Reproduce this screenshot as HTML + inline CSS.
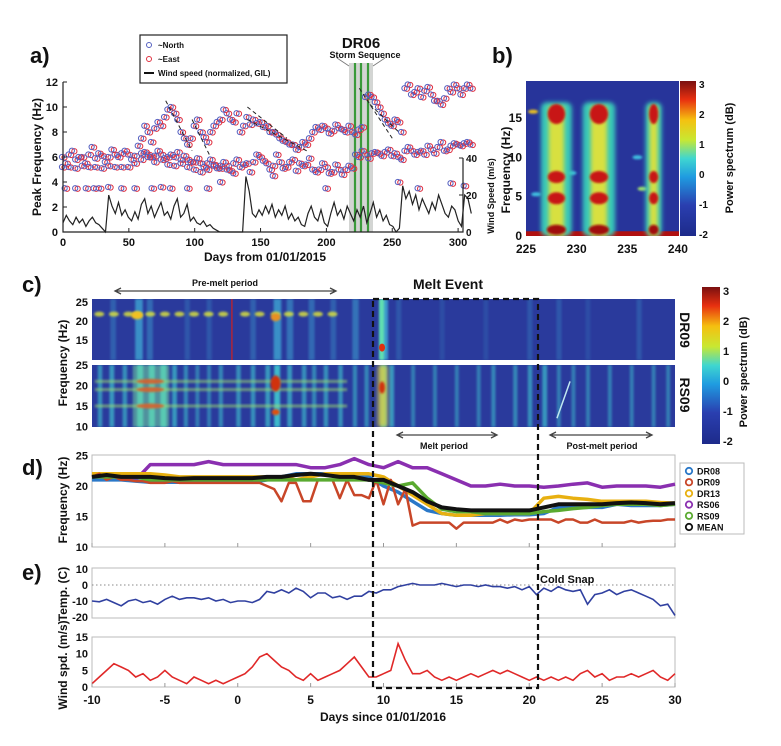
<!DOCTYPE html>
<html><head><meta charset="utf-8">
<style>
html,body{margin:0;padding:0;background:#fff;}
svg{display:block;font-family:"Liberation Sans",sans-serif;}
text{font-weight:bold;fill:#111;}
</style></head>
<body>
<svg id="fig" width="781" height="746" viewBox="0 0 781 746">
<defs>
<linearGradient id="jet" x1="0" y1="1" x2="0" y2="0">
<stop offset="0" stop-color="#1d2a8a"/><stop offset="0.2" stop-color="#2a3fb0"/><stop offset="0.38" stop-color="#1f9be0"/><stop offset="0.5" stop-color="#3fd6d0"/><stop offset="0.62" stop-color="#c8e832"/><stop offset="0.75" stop-color="#f5c010"/><stop offset="0.88" stop-color="#e83010"/><stop offset="1" stop-color="#7a1010"/>
</linearGradient>
<filter id="blur2" x="-50%" y="-50%" width="200%" height="200%"><feGaussianBlur stdDeviation="2"/></filter>
<filter id="blur1" x="-50%" y="-50%" width="200%" height="200%"><feGaussianBlur stdDeviation="1"/></filter>
<clipPath id="clipB"><rect x="526" y="81" width="153" height="155"/></clipPath>
<clipPath id="clipC1"><rect x="92" y="299" width="583" height="61"/></clipPath>
<clipPath id="clipC2"><rect x="92" y="365" width="583" height="62"/></clipPath>
</defs>
</svg>
<script>
// ---------- DATA ----------
// panel a
const aBandDays = [0,5,10,15,20,25,30,35,40,45,50,55,60,65,70,75,80,85,90,95,100,105,110,115,120,125,130,135,140,145,150,155,160,165,170,175,180,185,190,195,200,205,210,215,220,225,230,235,240,245,250,255,260,265,270,275,280,285,290,295,300,305,310];
const aBandFreq = [6,6.2,5.8,6,6.2,5.9,6.1,6,6.2,6.3,6.2,6.1,6.3,6.2,6.1,6.2,6,6,5.8,5.8,5.6,5.5,5.5,5.4,5.3,5.3,5.5,5.2,5.5,5.6,6,5.5,5.3,5.6,5.2,5.8,5.5,5.4,5,5,5.2,4.8,5,5,5.1,6,6.2,6.3,6.3,6.4,6.1,6,6.5,6.5,6.4,6.2,6.6,6.8,6.5,6.9,7,7.1,7];
const aBandBDays = [2.5,7.5,12.5,17.5,22.5,27.5,32.5,37.5,42.5,47.5,52.5,57.5,62.5,67.5,72.5,77.5,82.5,87.5,92.5,97.5,102.5,107.5,112.5,117.5,122.5,127.5,132.5,137.5,142.5,147.5,152.5,157.5,162.5,167.5,172.5,177.5,182.5,187.5,192.5,197.5,202.5,207.5,212.5,217.5,222.5,227.5,232.5,237.5,242.5,247.5,252.5,257.5,262.5,267.5,272.5,277.5,282.5,287.5,292.5,297.5,302.5,307.5];
const aBandBFreq = [5.5,6.5,6,5.5,6.8,6.3,5.6,6.6,6,6.5,5.8,6.9,6.4,6,6.5,5.9,6.2,6.4,6.1,5.6,5.9,5.2,5.8,5.1,5.6,4.9,5.8,5.4,4.8,6.2,5.7,5,6.2,5.1,5.6,4.9,5.3,5.9,4.8,5.5,4.7,5.4,4.6,5.3,6.2,6.5,5.9,6.4,6.1,6.6,6.3,5.8,6.8,6.2,6.5,6.9,6.3,7.2,6.6,7.1,6.9,7.2];
const aLowDays = [0,5,10,15,20,25,30,35,40,45,50,55,60,65,70,75,80,85,90,95,100,105,110,115,120,125,130];
const aLowFreq = [5.2,5.2,5.1,5.3,5.2,5.2,5.1,5.3,5.2,5.2,5.2,5.5,5.8,6,5.6,5.8,5.4,5.3,5.5,5.2,5,4.8,5,5.3,5.1,5,4.7];
const aUpDays = [60,65,70,75,80,85,90,95,100,105,110,115,120,125,130,135,140,145,150,155,160,165,170,175,180,185,190,195,200,205,210,215,220,225,230,235,240,245,250,255,260,265,270,275,280,285,290,295,300,305,310];
const aUpFreq = [7.5,8,8.3,8.5,9.8,9.5,8,7,8.5,8,7.2,8.5,9,9.5,8.8,8,9.2,9,8.8,8.5,8,7.5,7.2,7,6.8,7,8,8.2,8.3,8.1,8.3,8,8,8.2,10.8,10.8,10,9,8.5,8.8,11.5,11,11.5,11.3,11,10.5,10.7,11.2,11.5,11.5,11.5];
const aUpBDays = [62.5,67.5,72.5,77.5,82.5,87.5,92.5,97.5,102.5,107.5,112.5,117.5,122.5,127.5,132.5,137.5,142.5,147.5,152.5,157.5,162.5,167.5,172.5,177.5,182.5,187.5,192.5,197.5,202.5,207.5,212.5,217.5,222.5,227.5,232.5,237.5,242.5,247.5,252.5,257.5,262.5,267.5,272.5,277.5,282.5,287.5,292.5,297.5,302.5,307.5];
const aUpBFreq = [8.5,7.2,8.8,9.2,10,9,7.5,7.5,9,7.6,8,8.8,9.8,9,9.5,8.5,8.6,8.7,8.4,8,7.8,7.3,7,6.6,7.2,7.5,8.4,8.5,7.9,8.6,8.2,8.5,7.8,8.4,11,10.4,9.5,8.7,9,8,11.8,11.2,10.8,11.6,10.5,10.2,11.5,11.8,11,11.8];
const aOutDays = [2,10,18,24,28,35,45,55,68,75,82,95,110,120,160,200,255,270,295,305];
const aOutFreq = [3.5,3.5,3.5,3.5,3.5,3.6,3.5,3.5,3.5,3.6,3.5,3.5,3.5,4,4.5,3.5,4,3.5,3.9,3.7];
const aWindSpeed = [5,9,6,4,8,5,7,3,6,8,5,4,2,0,20,14,10,16,9,12,8,6,11,7,15,18,10,14,8,12,16,9,11,7,14,18,8,10,15,6,8,5,4,6,3,4,2,1,0,0,0,0,0,0,0,0,30,22,10,8,12,9,14,10,15,8,12,9,14,7,10,6,8,4,3,10,14,8,6,12,5,3,10,16,9,12,7,14,10,6,12,8,14,5,10,16,8,12,6,9,4,3,0,2,25,18,22,15,20,12,18,14,10,16,12,20,15,10,8,14,12,6,3,20,18,10];
const aXTicks = [0,50,100,150,200,250,300];
const aYTicks = [0,2,4,6,8,10,12];
const aWTicks = [0,20,40];
// panel b
const bColDays = [228,232.2,237.6];
const bColWidth = [1.9,2.0,1.0];
const bHotFreqs = [15.5,7.5,4.8];
const bXTicks = [225,230,235,240];
const bYTicks = [0,5,10,15];
const cbTicks = [-2,-1,0,1,2,3];
// panel c
const c1StreakDays = [-8.6,-6.9,-6.1,-3.5,-2,1,2.6,3.5,5,6.5,8,9.9,11,14,17,20,22,24,27.5];
const c1StreakPow = [0.4,0.9,0.5,0.3,0.3,0.4,0.9,0.6,0.5,0.4,0.6,1,0.3,0.2,0.2,0.3,0.3,0.2,0.3];
const c1BandDays = [-9.5,-8.5,-7.5,-6.9,-6,-5,-4,-3,-2,-1,0.5,1.5,2.6,3.5,4.5,5.5,6.5];
const c2StreakDays = [-9.5,-8.7,-7.8,-6.8,-6,-5.2,-4.4,-3.6,-2.8,-2,-1.2,0,1,2,2.6,3.5,4.5,5.2,6,7,8,8.8,9.9,10.5,12,13.5,15,16.5,17.5,19,20,21,22,23,24,25.5,27,28.5,29.5];
const c2StreakPow = [0.5,0.6,0.5,1,1,1,0.6,0.4,0.3,0.3,0.4,0.5,0.5,0.6,1,0.6,0.5,0.4,0.5,0.5,0.4,0.4,1,0.6,0.3,0.3,0.3,0.3,0.4,0.4,0.5,0.6,0.3,0.3,0.3,0.3,0.3,0.3,0.3];
const c2BandFreqs = [21,19,15];
const cXTicks = [-10,-5,0,5,10,15,20,25,30];
// panel d
const dDaysDaily = [-10,-9,-8,-7,-6,-5,-4,-3,-2,-1,0,1,2,3,4,5,6,7,8,9,10,11,12,13,14,15,16,17,18,19,20,21,22,23,24,25,26,27,28,29,30];
const dr08 = [21,21,21,20.8,20.6,20.6,20.6,20.6,20.6,20.6,20.6,20.6,21,21.5,22,22,22,22,21.5,21.5,20,19,17.5,16,15.5,15.2,15.2,15.2,15.2,15.3,15.3,15.5,16.5,16.5,16.5,16.5,17,16.8,16.8,16.8,17];
const dr13 = [22,22,22,22,22,21.8,21.5,21.5,21.5,21.5,21.5,21.5,21.5,21.5,21,21.5,22,22,22,22,21.5,20,18.5,17,15.5,15.2,15.2,15.5,15.5,15.5,15.5,18,18.3,18,17.8,17.5,17.5,17.5,17.5,17.3,17.2];
const rs06 = [21.8,21.5,21.5,21,23.5,23.5,23.5,23.5,24,23.5,23.5,23.5,23.5,23.5,23.5,23,23,23.5,24.5,23.5,23,24,23,23,22,21,20,20,20.3,20,20,19.8,20,20.3,20.5,19.8,20,20,20,19.8,20.3];
const rs09 = [21.5,21.5,21.5,21.5,21,21,21,21,21,21,21,21,21,21,21,21,21,21,21,21,20.5,20,20.5,18,16.2,15.8,15.8,15.5,15.5,15.5,15.5,15.8,16,16.3,16.5,16.8,17,17,17,16.8,17];
const meanF = [21.5,21.8,21.5,21.5,21.5,21.3,21.2,21.3,21.3,21.3,21.3,21.3,21.5,21.5,21.8,22,21.8,21.5,21.5,21,21,20,19,17.5,16.5,16.2,16,16,16,16,16,16.5,17,17,17,17,17.2,17.3,17.2,17,17.2];
const dr09 = [21.5,22,21,21.5,21,21,20.8,20.8,20.5,20.5,20.5,20.8,20.5,20.5,20.5,20.5,20.5,20.5,20.5,20.5,20.5,20.5,20.5,20.5,20,19.5,17.5,20.5,20.5,17.5,17.5,21,21,21,18,21,18.5,18.5,18,21,17,21,17,19.5,13.5,14,14,14,14,14,13,14,14,14,14,14,14.5,14,14.5,14.3,14.5,14.5,14.5,14.5,14,14.5,14.5,14,14,14.5,14,14,14,14,14.3,14,14.2,14.3,14.3,14.5,14.5];
const dYTicks = [10,15,20,25];
const dSeriesNames = ["DR08","DR09","DR13","RS06","RS09","MEAN"];
// panel e
const temp = [-10,-10.5,-9,-11,-13,-10,-9,-11,-10,-12,-9,-7,-9,-8,-8,-9,-8,-10,-9,-11,-10,-10,-11,-9,-4,-5,-3,-5,-2,-4,-8,-5,-5,-8,-7,-9,-7,-7,-4,-5,-3,-3,-1,0,1,0,0,0,1,0,-1,0,0,-1,0,-1,-1,-2,-1,-3,-1,-6,-2,-4,-1,-3,-4,-3,-12,-6,-5,-3,-6,-4,-3,-5,-7,-9,-13,-12,-19];
const wind = [1,3,5,7,6,5,3,4,2,3,5,3,2,1,3,2,1,2,1,2,3,4,6,9,10,8,6,5,3,2,4,2,3,4,5,7,9,6,3,3,4,5,13,8,4,4,5,3,2,3,2,3,4,3,4,5,4,5,4,3,2,3,2,3,2,3,2,4,5,3,4,2,3,3,4,3,4,5,3,2,4];
const tYTicks = [-20,-10,0,10];
const wYTicks = [0,5,10,15];

// ---------- HELPERS ----------
const NS = "http://www.w3.org/2000/svg";
const svg = document.getElementById('fig');
function mk(tag, attrs, parent){ const e=document.createElementNS(NS,tag); for(const k in attrs) e.setAttribute(k,attrs[k]); (parent||svg).appendChild(e); return e; }
function txt(x,y,s,size,anchor,parent){ const t=mk('text',{x:x,y:y,'font-size':size,'text-anchor':anchor||'middle'},parent); t.textContent=s; return t; }
function grp(){ return mk('g',{}); }

const xa = d => 63 + d*1.317;
const ya = f => 232 - f*12.5;
const yaw = w => 232 - w*1.85;
const xb = d => 526 + (d-225)*10.13;
const yb = f => 236 - f*7.87;
const xc = d => 92 + (d+10)*14.575;
const yc1 = f => 302 + (25-f)*3.8;
const yc2 = f => 365 + (25-f)*4.1;
const yd = f => 547 - (f-10)*6.1;
const yt = t => 585 - t*1.6;
const yw = w => 687 - w*3.33;

// ---------- PANEL A ----------
const gA = grp();


let t = txt(30,63,'a)',22,'start',gA);


let r = mk('rect',{x:349,y:63,width:24,height:169,fill:'#c8cbc8',opacity:0.8},gA);


[355,361,368].forEach(x=>{ const l=mk('line',{x1:x,x2:x,y1:63,y2:232,stroke:'#3a9a3a','stroke-width':2.2},gA);

 });
mk('path',{d:'M337,58 L349,66 M385,58 L373,66',stroke:'#777','stroke-width':0.8,fill:'none'},gA);
t = txt(361,48,'DR06',15,'middle',gA);


t = txt(365,58,'Storm Sequence',9,'middle',gA);


const aWindDays = aWindSpeed.map((v,i)=>i*310/(aWindSpeed.length-1));
let dW = aWindDays.map((d,i)=>(i?'L':'M')+xa(d).toFixed(1)+','+yaw(aWindSpeed[i]).toFixed(1)).join('');
let p = mk('path',{d:dW,fill:'none',stroke:'#222','stroke-width':1.2},gA);


function scatter(days, vals){
  const n = Math.min(days.length, vals.length);
  for(let i=0;i<n;i++){
    const d = days[i];
    const e = mk('circle',{cx:xa(d)+1.5,cy:ya(vals[i])+0.5,r:2.6,fill:'none',stroke:'#e03040','stroke-width':1},gA);
    
    
    const nn = mk('circle',{cx:xa(d)-1,cy:ya(vals[i]),r:2.6,fill:'none',stroke:'#5560c0','stroke-width':1},gA);
    
    
  }
}
scatter(aBandDays,aBandFreq);
scatter(aBandBDays,aBandBFreq);
scatter(aLowDays,aLowFreq);
scatter(aUpDays,aUpFreq);
scatter(aUpBDays,aUpBFreq);
scatter(aOutDays,aOutFreq);
[[78,10.5,98,6.5],[98,9,112,6],[140,10,170,7.5],[140,9,185,6.5],[225,11.5,250,7.5],[233,10.2,255,8]].forEach(s=>{
  const l = mk('line',{x1:xa(s[0]),y1:ya(s[1]),x2:xa(s[2]),y2:ya(s[3]),stroke:'#222','stroke-width':1,'stroke-dasharray':'4,3'},gA);
  
  
});
let ax = mk('path',{d:'M63,82 V232 H463 V158',fill:'none',stroke:'#222','stroke-width':1.2},gA);


aXTicks.forEach(v=>{ mk('line',{x1:xa(v),x2:xa(v),y1:232,y2:228,stroke:'#222'},gA);
  const tt=txt(xa(v),246,String(v),11,'middle',gA);
  
   });
aYTicks.forEach(v=>{ mk('line',{x1:63,x2:67,y1:ya(v),y2:ya(v),stroke:'#222'},gA);
  const tt=txt(58,ya(v)+4,String(v),11,'end',gA);
  
   });
aWTicks.forEach(v=>{ mk('line',{x1:459,x2:463,y1:yaw(v),y2:yaw(v),stroke:'#222'},gA);
  const tt=txt(466,yaw(v)+4,String(v),10,'start',gA);
  
   });
t = txt(265,261,'Days from 01/01/2015',12,'middle',gA);


t = txt(0,0,'Peak Frequency (Hz)',12,'middle',gA);
t.setAttribute('transform','translate(41,157) rotate(-90)');


t = txt(0,0,'Wind Speed (m/s)',9,'middle',gA);
t.setAttribute('transform','translate(494,196) rotate(-90)');
t.setAttribute('font-weight','normal');


let lg = mk('rect',{x:140,y:35,width:147,height:48,fill:'#fff',stroke:'#222','stroke-width':1.2},gA);


mk('circle',{cx:149,cy:45,r:2.5,fill:'none',stroke:'#5560c0'},gA);
mk('circle',{cx:149,cy:59,r:2.5,fill:'none',stroke:'#e03040'},gA);
mk('line',{x1:144,x2:154,y1:73,y2:73,stroke:'#111','stroke-width':2},gA);
t = txt(158,48,'~North',8,'start',gA);


t = txt(158,62,'~East',8,'start',gA);


t = txt(158,76,'Wind speed (normalized, GIL)',8,'start',gA);



// ---------- PANEL B ----------
const gB = grp();


t = txt(492,63,'b)',22,'start',gB);


r = mk('rect',{x:526,y:81,width:153,height:155,fill:'#27349a'},gB);


const gBc = mk('g',{'clip-path':'url(#clipB)'},gB);
mk('rect',{x:526,y:yb(0.6),width:153,height:yb(0)-yb(0.6)+2,fill:'#b01010'},gBc);
[[225.7,15.8,'#e8c020'],[229.5,8,'#3fc0e0'],[236,10,'#3fc0e0'],[226,5.3,'#3fc0e0'],[236.5,6,'#9fe070']].forEach(s=>{
  mk('ellipse',{cx:xb(s[0]),cy:yb(s[1]),rx:5,ry:2,fill:s[2],filter:'url(#blur1)'},gBc);
});
bColDays.forEach((d,i)=>{
  const w = bColWidth[i];
  const c1 = mk('rect',{x:xb(d-w*0.8),y:yb(17),width:w*1.6*10.13,height:yb(0)-yb(17),rx:6,fill:'#38c8b8',filter:'url(#blur2)'},gBc);
  
  
  mk('rect',{x:xb(d-w*0.4),y:yb(16.5),width:w*0.8*10.13,height:yb(0)-yb(16.5),fill:'#d8e040',filter:'url(#blur2)'},gBc);
  bHotFreqs.forEach((f,j)=>{
    const h = mk('ellipse',{cx:xb(d),cy:yb(f),rx:w*0.45*10.13,ry:j==0?10:6,fill:'#c81818',filter:'url(#blur1)'},gBc);
    
    
  });
  mk('ellipse',{cx:xb(d),cy:yb(0.8),rx:w*0.5*10.13,ry:5,fill:'#a01010',filter:'url(#blur1)'},gBc);
});
bXTicks.forEach(v=>{ const tt=txt(xb(v),253,String(v),12,'middle',gB);
  
   });
bYTicks.forEach(v=>{ const tt=txt(522,yb(v)+4,String(v),12,'end',gB);
  
   });
t = txt(0,0,'Frequency (Hz)',12,'middle',gB);
t.setAttribute('transform','translate(510,170) rotate(-90)');


r = mk('rect',{x:680,y:81,width:16,height:155,fill:'url(#jet)'},gB);


cbTicks.forEach(v=>{ const y=236-(v+2)/5*150-2; const tt=txt(699,y+4,String(v),10,'start',gB);
  
   });
t = txt(0,0,'Power spectrum (dB)',11,'middle',gB);
t.setAttribute('transform','translate(733,158) rotate(-90)');



// ---------- PANEL C ----------
const gC = grp();


t = txt(22,292,'c)',22,'start',gC);


r = mk('rect',{x:92,y:299,width:583,height:61,fill:'#2a3a9c'},gC);


r = mk('rect',{x:92,y:365,width:583,height:62,fill:'#2a3a9c'},gC);


const gC1 = mk('g',{'clip-path':'url(#clipC1)'},gC);
const gC2 = mk('g',{'clip-path':'url(#clipC2)'},gC);
c1StreakDays.forEach((d,i)=>{
  const s = mk('rect',{x:xc(d)-2,y:299,width:4+c1StreakPow[i]*4,height:61,fill:'#3fb0d8',opacity:c1StreakPow[i]*0.8,filter:'url(#blur1)'},gC1);
  
  
});
c1BandDays.forEach(d=>{
  const b = mk('ellipse',{cx:xc(d),cy:yc1(21.8),rx:5,ry:2.5,fill:'#d8e040',opacity:0.85,filter:'url(#blur1)'},gC1);
  
  
});
mk('ellipse',{cx:xc(-6.9),cy:yc1(21.5),rx:6,ry:4,fill:'#f0c020',filter:'url(#blur1)'},gC1);
mk('ellipse',{cx:xc(2.6),cy:yc1(21),rx:5,ry:4,fill:'#e89020',filter:'url(#blur1)'},gC1);
mk('rect',{x:xc(9.7),y:299,width:5,height:61,fill:'#60e0b0',filter:'url(#blur1)'},gC1);
mk('ellipse',{cx:xc(9.9),cy:yc1(13),rx:3,ry:4,fill:'#e03010'},gC1);
mk('line',{x1:xc(-0.4),x2:xc(-0.4),y1:299,y2:360,stroke:'#d02020','stroke-width':1.2},gC1);
c2StreakDays.forEach((d,i)=>{
  const s = mk('rect',{x:xc(d)-1.5,y:365,width:3+c2StreakPow[i]*3,height:62,fill:'#40c8d0',opacity:0.3+c2StreakPow[i]*0.6,filter:'url(#blur1)'},gC2);
  
  
});
mk('rect',{x:xc(-7.2),y:365,width:xc(-4.7)-xc(-7.2),height:62,fill:'#70d8a0',opacity:0.55,filter:'url(#blur1)'},gC2);
c2BandFreqs.forEach(f=>{
  const b = mk('rect',{x:xc(-9.8),y:yc2(f)-1.5,width:xc(7.5)-xc(-9.8),height:3,fill:'#a0e070',opacity:0.55,filter:'url(#blur1)'},gC2);
  
  
  mk('ellipse',{cx:xc(-6),cy:yc2(f),rx:14,ry:2.5,fill:'#e05020',opacity:0.8,filter:'url(#blur1)'},gC2);
});
mk('ellipse',{cx:xc(2.6),cy:yc2(20.5),rx:5,ry:8,fill:'#d03010',filter:'url(#blur1)'},gC2);
mk('ellipse',{cx:xc(2.6),cy:yc2(13.5),rx:4,ry:3,fill:'#e05010',filter:'url(#blur1)'},gC2);
mk('rect',{x:xc(9.6),y:365,width:10,height:62,fill:'#e0d040',opacity:0.8,filter:'url(#blur2)'},gC2);
mk('ellipse',{cx:xc(9.9),cy:yc2(19.5),rx:3,ry:6,fill:'#d03010',filter:'url(#blur1)'},gC2);
mk('path',{d:'M'+xc(21.9)+','+yc2(12)+' L'+xc(22.5)+','+yc2(18)+' L'+xc(22.8)+','+yc2(21),stroke:'#c0e8f0','stroke-width':1.5,fill:'none'},gC2);
[25,20,15].forEach(v=>{ const tt=txt(88,yc1(v)+4,String(v),11,'end',gC);
  
   });
[25,20,15,10].forEach(v=>{ const tt=txt(88,yc2(v)+4,String(v),11,'end',gC);
  
   });
t = txt(0,0,'Frequency (Hz)',12,'middle',gC);
t.setAttribute('transform','translate(67,363) rotate(-90)');


t = txt(0,0,'DR09',14,'middle',gC);
t.setAttribute('transform','translate(680,330) rotate(90)');


t = txt(0,0,'RS09',14,'middle',gC);
t.setAttribute('transform','translate(680,395) rotate(90)');


r = mk('rect',{x:702,y:287,width:18,height:157,fill:'url(#jet)'},gC);


cbTicks.forEach(v=>{ const y=441-(v+2)/5*150; const tt=txt(723,y+4,String(v),11,'start',gC);
  
   });
t = txt(0,0,'Power spectrum (dB)',11,'middle',gC);
t.setAttribute('transform','translate(747,372) rotate(-90)');


function arrow(x1,x2,y,name){
  const l = mk('path',{d:`M${x1},${y} H${x2} M${x1+6},${y-3} L${x1},${y} L${x1+6},${y+3} M${x2-6},${y-3} L${x2},${y} L${x2-6},${y+3}`,stroke:'#444','stroke-width':1.3,fill:'none'},gC);
  
  
}
arrow(115,336,291,'pre-melt-arrow');
arrow(397,497,435,'melt-arrow');
arrow(550,652,435,'post-melt-arrow');
t = txt(225,286,'Pre-melt period',9,'middle',gC);


t = txt(448,289,'Melt Event',14,'middle',gC);


t = txt(444,449,'Melt period',9,'middle',gC);


t = txt(602,449,'Post-melt period',9,'middle',gC);



// ---------- PANEL D ----------
const gD = grp();


t = txt(22,475,'d)',22,'start',gD);


r = mk('rect',{x:92,y:455,width:583,height:92,fill:'none',stroke:'#bbb'},gD);


cXTicks.forEach(v=>{ mk('line',{x1:xc(v),x2:xc(v),y1:547,y2:543,stroke:'#999'},gD); });
function line(days, vals, color, w, parent){
  const dd = days.map((d,i)=>(i?'L':'M')+xc(d).toFixed(1)+','+yd(vals[i]).toFixed(1)).join('');
  return mk('path',{d:dd,fill:'none',stroke:color,'stroke-width':w,'stroke-linejoin':'round'},parent);
}
const halfDays = dr09.map((v,i)=>-10+i*0.5);
p = line(dDaysDaily,rs06,'#8a2fb0',3.5,gD);


p = line(dDaysDaily,dr08,'#2a78c8',3.5,gD);


p = line(dDaysDaily,dr13,'#e8b010',3.5,gD);


p = line(halfDays,dr09,'#c84628',2.5,gD);


p = line(dDaysDaily,rs09,'#5aaa30',3.5,gD);


p = line(dDaysDaily,meanF,'#111',4,gD);


dYTicks.forEach(v=>{ const tt=txt(88,yd(v)+4,String(v),11,'end',gD);
  
   });
t = txt(0,0,'Frequency (Hz)',12,'middle',gD);
t.setAttribute('transform','translate(67,500) rotate(-90)');


r = mk('rect',{x:680,y:463,width:64,height:71,fill:'#fff',stroke:'#bbb'},gD);


const legColors = ['#2a78c8','#c84628','#e8b010','#8a2fb0','#5aaa30','#111'];
dSeriesNames.forEach((n,i)=>{
  const y = 471+i*11.2;
  const c = mk('circle',{cx:689,cy:y,r:3.2,fill:'none',stroke:legColors[i],'stroke-width':1.8},gD);
  
  
  const tt = txt(697,y+3.5,n,9,'start',gD);
  tt.setAttribute('font-weight','normal');
  
  
});

// ---------- PANEL E ----------
const gE = grp();


t = txt(22,580,'e)',22,'start',gE);


r = mk('rect',{x:92,y:568,width:583,height:50,fill:'none',stroke:'#bbb'},gE);


r = mk('rect',{x:92,y:637,width:583,height:50,fill:'none',stroke:'#bbb'},gE);


mk('line',{x1:92,x2:675,y1:yt(0),y2:yt(0),stroke:'#888','stroke-dasharray':'1.5,2.5'},gE);
const tDays = temp.map((v,i)=>-10+i*40/(temp.length-1));
const tp = tDays.map((d,i)=>(i?'L':'M')+xc(d).toFixed(1)+','+yt(temp[i]).toFixed(1)).join('');
p = mk('path',{d:tp,fill:'none',stroke:'#3040a0','stroke-width':1.6},gE);


const wDays = wind.map((v,i)=>-10+i*40/(wind.length-1));
const wp = wDays.map((d,i)=>(i?'L':'M')+xc(d).toFixed(1)+','+yw(wind[i]).toFixed(1)).join('');
p = mk('path',{d:wp,fill:'none',stroke:'#e02828','stroke-width':1.6},gE);


tYTicks.forEach(v=>{ const tt=txt(88,yt(v)+4,String(v),11,'end',gE);
  
   });
wYTicks.forEach(v=>{ const tt=txt(88,yw(v)+4,String(v),11,'end',gE);
  
   });
cXTicks.forEach(v=>{ mk('line',{x1:xc(v),x2:xc(v),y1:687,y2:683,stroke:'#999'},gE);
  const tt=txt(xc(v),704,String(v),12,'middle',gE);
  
   });
t = txt(383,721,'Days since 01/01/2016',12,'middle',gE);


t = txt(0,0,'Temp. (C)',12,'middle',gE);
t.setAttribute('transform','translate(67,594) rotate(-90)');


t = txt(0,0,'Wind spd. (m/s)',12,'middle',gE);
t.setAttribute('transform','translate(67,665) rotate(-90)');


t = txt(540,583,'Cold Snap',11,'start',gE);



const box = mk('rect',{x:373,y:299,width:165,height:389,fill:'none',stroke:'#111','stroke-width':2.2,'stroke-dasharray':'6,4'});


</script>
</body></html>
